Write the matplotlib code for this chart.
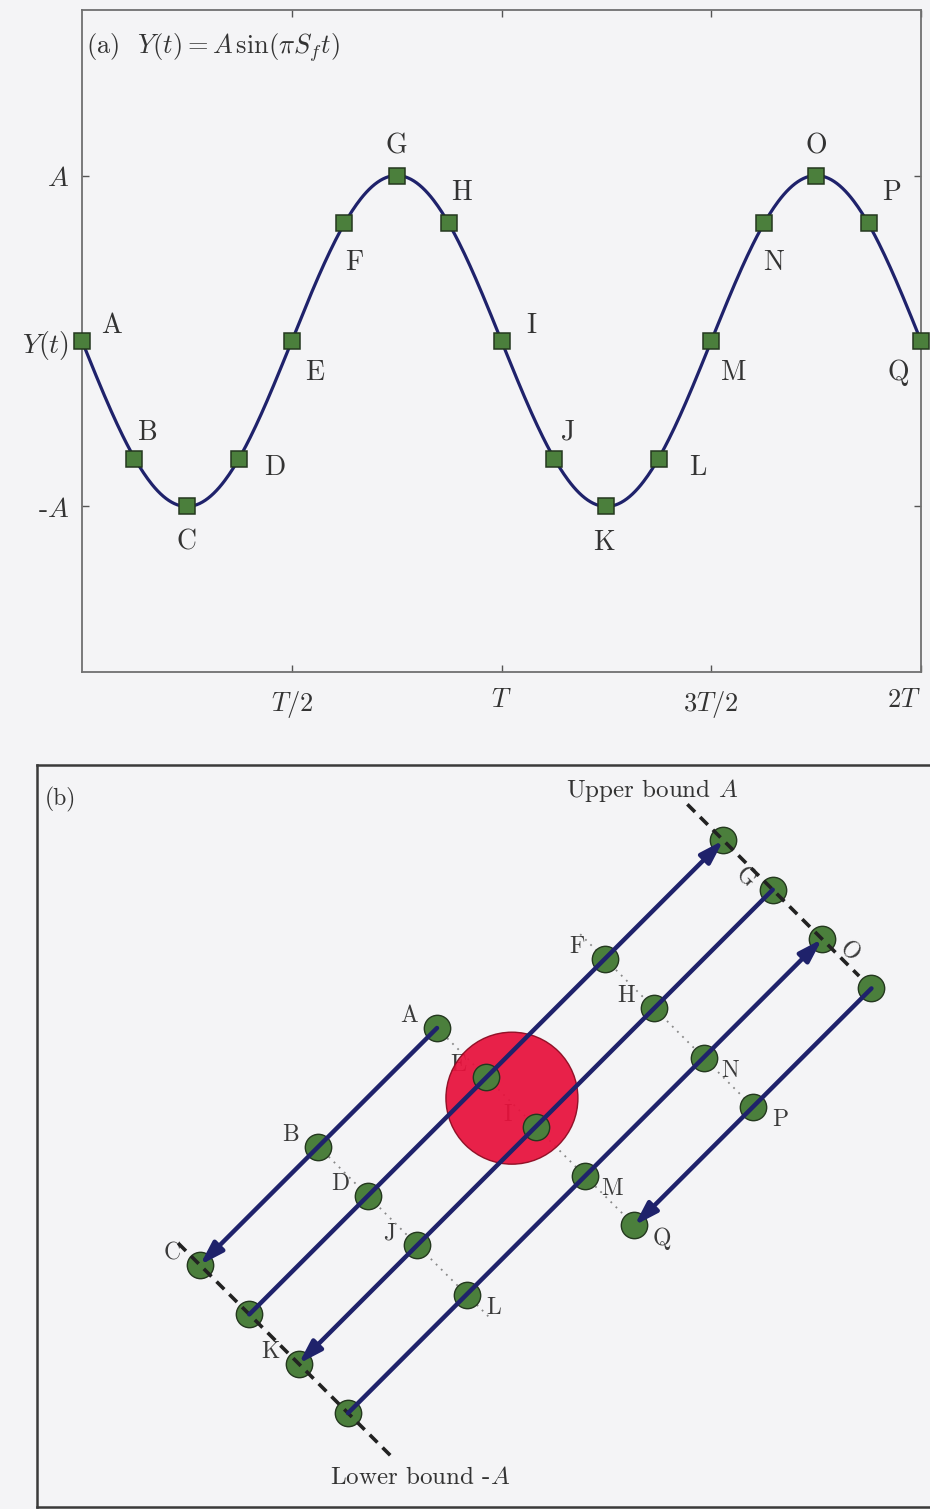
import numpy as np
import matplotlib
matplotlib.use("Agg")
import matplotlib.pyplot as plt
from matplotlib.patches import Circle
from matplotlib.transforms import Affine2D

plt.rcParams['font.family'] = ['cmr10', 'DejaVu Serif']
plt.rcParams['mathtext.fontset'] = 'cm'
plt.rcParams['axes.formatter.use_mathtext'] = True

# ---- panel (a): samples of Y(t) every T/8 (t in units of T, Y in units of A)
sample_names = list("ABCDEFGHIJKLMNOPQ")
sample_t = [0, 0.125, 0.25, 0.375, 0.5, 0.625, 0.75, 0.875, 1.0,
            1.125, 1.25, 1.375, 1.5, 1.625, 1.75, 1.875, 2.0]
sample_y = [0, -0.71, -1, -0.71, 0, 0.71, 1, 0.71, 0,
            -0.71, -1, -0.71, 0, 0.71, 1, 0.71, 0]
xtick_pos = [0.5, 1.0, 1.5, 2.0]
xtick_txt = ['$T/2$', '$T$', '$3T/2$', '$2T$']
ytick_pos = [-1, 0, 1]
ytick_txt = ['-$A$', '$Y(t)$', '$A$']

# ---- panel (b): the same samples folded into columns and amplitude levels
grid_names = ['A', 'B', 'C', '', 'D', 'E', 'F', '', 'G', 'H', 'I', 'J', 'K',
              '', 'L', 'M', 'N', 'O', '', 'P', 'Q']
grid_col = [0, 0, 0, 1, 1, 1, 1, 1, 2, 2, 2, 2, 2, 3, 3, 3, 3, 3, 4, 4, 4]
grid_level = [0, -1, -2, -2, -1, 0, 1, 2, 2, 1, 0, -1, -2, -2, -1, 0, 1, 2, 2, 1, 0]
arrow_col = [0, 1, 2, 3, 4]
arrow_from = [0, -2, 2, -2, 2]
arrow_to = [-2, 2, -2, 2, 0]
row_level = [1, 0, -1]
row_span = [(0.5, 4.0), (0.0, 4.0), (0.0, 3.5)]
bound_level = [2, -2]
bound_span = [(0.27, 3.75), (-0.44, 3.9)]

# label offsets in pixels for panel (a)
lab_off = {'A': (30, -15), 'B': (13, -26), 'C': (0, 36), 'D': (35, 9),
           'E': (23, 32), 'F': (10, 39), 'G': (0, -29), 'H': (12, -31),
           'I': (30, -15), 'J': (14, -26), 'K': (-2, 36), 'L': (39, 9),
           'M': (23, 32), 'N': (10, 39), 'O': (0, -29), 'P': (23, -31),
           'Q': (-23, 32)}

navy = '#1f226b'
green = '#4b7f3c'
green_edge = '#24381f'
bg = '#f4f4f6'
W, H = 930, 1509

fig = plt.figure(figsize=(W / 100, H / 100), dpi=100, facecolor=bg)

""" (a) the sampled sine wave """
ax = fig.add_axes([82 / W, 1 - 672 / H, (921 - 82) / W, (672 - 10) / H], facecolor=bg)
t = np.linspace(0, 2, 600)
ax.plot(t, -np.sin(2 * np.pi * t), color=navy, lw=2.3, zorder=2)
ax.plot(sample_t, sample_y, ls='none', marker='s', ms=11, mfc=green,
        mec=green_edge, mew=1.1, zorder=3, clip_on=False)
for name, tx, ty in zip(sample_names, sample_t, sample_y):
    dx, dy = lab_off[name]
    ax.annotate(name, (tx, ty), xytext=(dx * 0.72, -dy * 0.72),
                textcoords='offset points', ha='center', va='center',
                fontsize=20, color='#333333')
ax.set_xlim(0, 2)
ax.set_ylim(-2, 2)
ax.set_xticks(xtick_pos)
ax.set_xticklabels(xtick_txt, fontsize=19, color='#333333')
# last label sits on the right edge of the figure
ax.get_xticklabels()[-1].set_horizontalalignment('right')
ax.set_yticks(ytick_pos)
ax.set_yticklabels(ytick_txt, fontsize=20, color='#333333')
ax.tick_params(direction='in', top=True, right=True, length=5, width=1,
               color='#555555')
ax.tick_params(axis='x', pad=12)
ax.tick_params(axis='y', pad=9)
for s in ax.spines.values():
    s.set_color('#707070')
    s.set_linewidth(1.3)
ax.text(0.005, 0.943, r'(a)  $Y(t) = A\,\sin(\pi S_f t)$', transform=ax.transAxes,
        ha='left', va='center', fontsize=19, color='#333333')

""" (b) folding of the samples between the bounds """
bx = fig.add_axes([37 / W, 1 - 1507 / H, (945 - 37) / W, (1507 - 765) / H], facecolor=bg)
bx.set_xlim(37, 945)
bx.set_ylim(1507, 765)
bx.set_xticks([])
bx.set_yticks([])
for s in bx.spines.values():
    s.set_color('#3a3a3a')
    s.set_linewidth(1.8)

# (column, level) -> pixel coordinates, columns run down-right, levels up-right
fold = Affine2D().scale(69.8, -167.6).rotate_deg(45).translate(437, 1028)
rot = fold + bx.transData

for lev, (c0, c1) in zip(row_level, row_span):
    bx.plot([c0, c1], [lev, lev], transform=rot, color='#888888', lw=1.3,
            ls=(0, (1, 3)), zorder=1)
for lev, (c0, c1) in zip(bound_level, bound_span):
    bx.plot([c0, c1], [lev, lev], transform=rot, color='#222222', lw=2.6,
            ls=(0, (3, 2)), zorder=3.5)

cx, cy = fold.transform((1.47, 0.02))
bx.add_patch(Circle((cx, cy), 66, facecolor='#e8113c', edgecolor='#8a0a20',
                    lw=1, alpha=0.93, zorder=2.5))

bx.plot(grid_col, grid_level, transform=rot, ls='none', marker='o', ms=19,
        mfc=green, mec=green_edge, mew=1.0, zorder=3)

for c, l0, l1 in zip(arrow_col, arrow_from, arrow_to):
    bx.annotate('', xy=(c, l1), xytext=(c, l0), xycoords=rot, textcoords=rot,
                arrowprops=dict(arrowstyle='-|>,head_length=0.7,head_width=0.22',
                                color=navy, lw=3.2, mutation_scale=20,
                                shrinkA=0, shrinkB=0),
                zorder=4)

for name, c, l in zip(grid_names, grid_col, grid_level):
    if not name:
        continue
    if c <= 2:
        off = (-28 * 0.72, 12 * 0.72)
    else:
        off = (27 * 0.72, -13 * 0.72)
    rot_deg = -45 if name in ('G', 'O') else 0
    bx.annotate(name, (c, l), xycoords=rot, xytext=off, textcoords='offset points',
                ha='center', va='center', fontsize=17, color='#3a3a3a',
                rotation=rot_deg, zorder=2)

bx.text(652, 790, r'Upper bound $A$', ha='center', va='center', fontsize=18,
        color='#333333')
bx.text(420, 1478, r'Lower bound -$A$', ha='center', va='center', fontsize=18,
        color='#333333')
bx.text(0.009, 0.953, '(b)', transform=bx.transAxes, ha='left', va='center',
        fontsize=17, color='#333333')

fig.savefig("out.png", dpi=100, facecolor=bg)
